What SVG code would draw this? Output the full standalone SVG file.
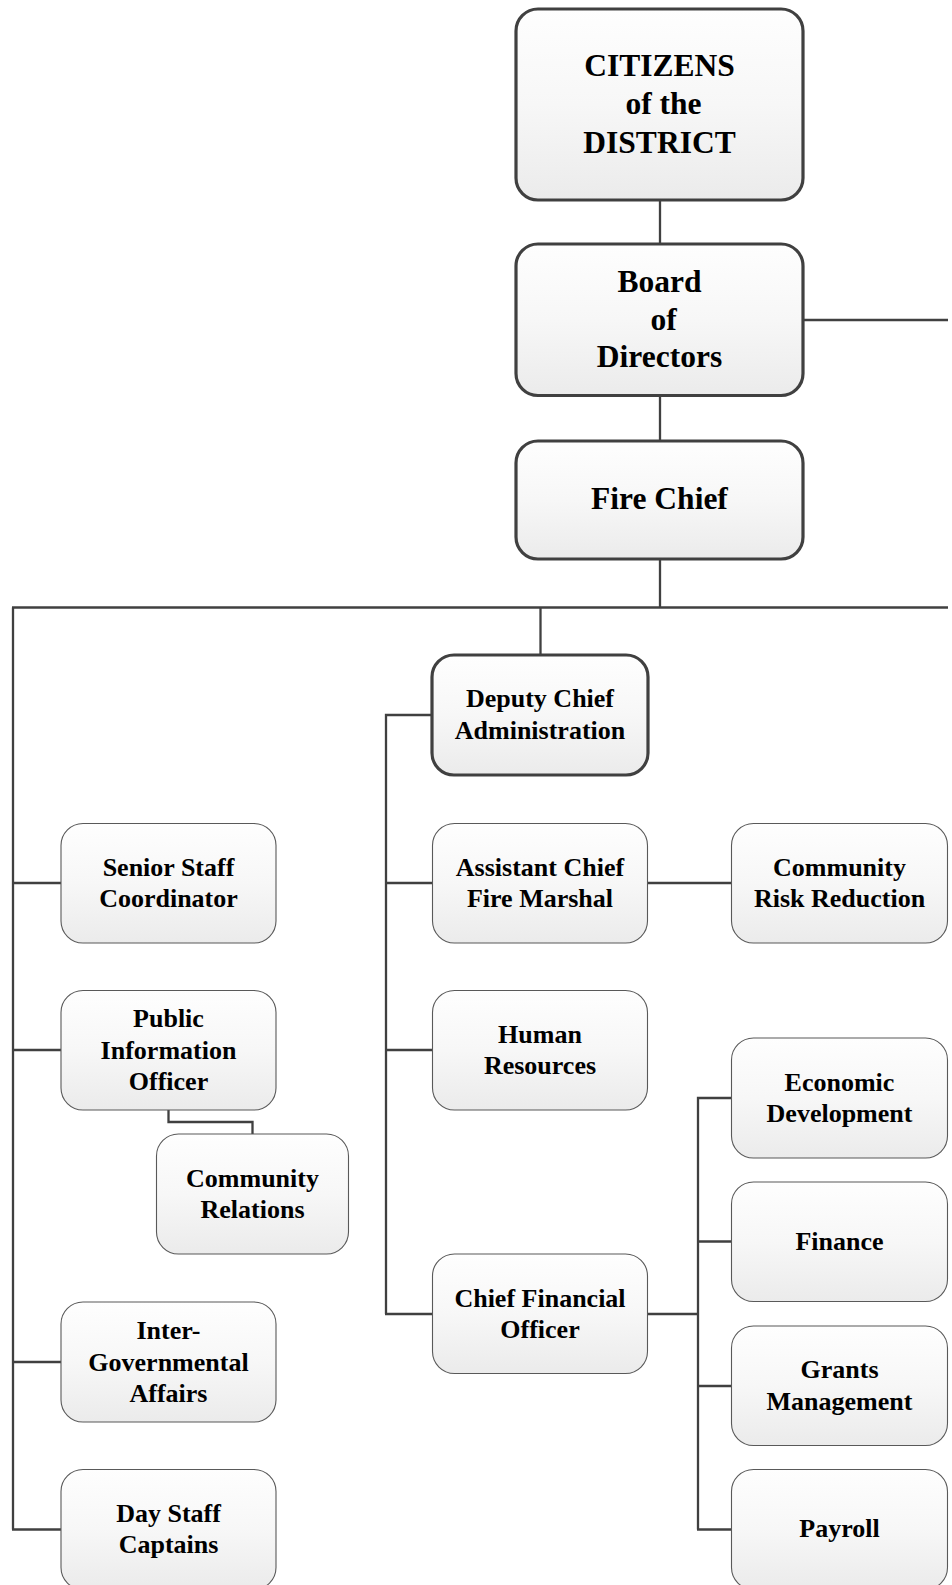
<svg xmlns="http://www.w3.org/2000/svg" width="952" height="1585" viewBox="0 0 952 1585">
<defs>
<linearGradient id="g" x1="0" y1="0" x2="0" y2="1">
<stop offset="0" stop-color="#fefefe"/>
<stop offset="0.5" stop-color="#f7f7f7"/>
<stop offset="1" stop-color="#ebebeb"/>
</linearGradient>
</defs>
<style>
.main rect{fill:url(#g);stroke:#404040;stroke-width:3.2}
.sub rect{fill:url(#g);stroke:#595959;stroke-width:1.1}
text{font-family:"Liberation Serif","Times New Roman",serif;font-weight:bold;fill:#000;text-anchor:middle}
.main text.big{font-size:31.5px}
text{font-size:26px}
#connectors path{fill:none;stroke:#404040;stroke-width:2.3}
</style>
<rect width="952" height="1585" fill="#fff"/>
<g id="connectors">
<path d="M660 200V244"/>
<path d="M660 395.5V441"/>
<path d="M660 559V607.5"/>
<path d="M803 320H948"/>
<path d="M12 607.5H948"/>
<path d="M540.5 607.5V655"/>
<path d="M13 607.5V1529.5"/>
<path d="M13 883H61"/>
<path d="M13 1050H61"/>
<path d="M13 1362H61"/>
<path d="M12 1529.5H61"/>
<path d="M386 1314V715H432"/>
<path d="M386 883H432.5"/>
<path d="M386 1050H432.5"/>
<path d="M385 1314H432.5"/>
<path d="M647.5 883H731.5"/>
<path d="M168.5 1110V1122H252.5V1134"/>
<path d="M647.5 1314H698"/>
<path d="M698 1529.5V1098H731.5"/>
<path d="M698 1241.5H731.5"/>
<path d="M698 1386H731.5"/>
<path d="M697 1529.5H731.5"/>
</g>
<g id="citizens" class="main">
<rect x="516" y="9" width="287" height="191" rx="22"/>
<text class="big" x="659.5" y="75.5">CITIZENS</text>
<text class="big" x="663.5" y="114">of the</text>
<text class="big" x="659.5" y="152.5">DISTRICT</text>
</g>
<g id="board" class="main">
<rect x="516" y="244" width="287" height="151.5" rx="22"/>
<text class="big" x="659.5" y="291.5">Board</text>
<text class="big" x="663.5" y="330">of</text>
<text class="big" x="659.5" y="367">Directors</text>
</g>
<g id="firechief" class="main">
<rect x="516" y="441" width="287" height="118" rx="22"/>
<text class="big" x="659.5" y="509">Fire Chief</text>
</g>
<g id="deputy" class="main">
<rect x="432" y="655" width="216" height="120" rx="22"/>
<text x="540" y="707">Deputy Chief</text>
<text x="540" y="738.5">Administration</text>
</g>
<g id="senior" class="sub">
<rect x="61" y="823.5" width="215" height="119.5" rx="22"/>
<text x="168.5" y="875.5">Senior Staff</text>
<text x="168.5" y="907">Coordinator</text>
</g>
<g id="pio" class="sub">
<rect x="61" y="990.5" width="215" height="119.5" rx="22"/>
<text x="168.5" y="1027">Public</text>
<text x="168.5" y="1058.5">Information</text>
<text x="168.5" y="1090">Officer</text>
</g>
<g id="commrel" class="sub">
<rect x="156.5" y="1134" width="192" height="120" rx="22"/>
<text x="252.5" y="1186.5">Community</text>
<text x="252.5" y="1218">Relations</text>
</g>
<g id="intergov" class="sub">
<rect x="61" y="1302" width="215" height="120" rx="22"/>
<text x="168.5" y="1339">Inter-</text>
<text x="168.5" y="1370.5">Governmental</text>
<text x="168.5" y="1402">Affairs</text>
</g>
<g id="daystaff" class="sub">
<rect x="61" y="1469.5" width="215" height="120" rx="22"/>
<text x="168.5" y="1521.5">Day Staff</text>
<text x="168.5" y="1553">Captains</text>
</g>
<g id="assistant" class="sub">
<rect x="432.5" y="823.5" width="215" height="119.5" rx="22"/>
<text x="540" y="875.5">Assistant Chief</text>
<text x="540" y="907">Fire Marshal</text>
</g>
<g id="hr" class="sub">
<rect x="432.5" y="990.5" width="215" height="119.5" rx="22"/>
<text x="540" y="1042.5">Human</text>
<text x="540" y="1074">Resources</text>
</g>
<g id="cfo" class="sub">
<rect x="432.5" y="1254" width="215" height="119.5" rx="22"/>
<text x="540" y="1306.5">Chief Financial</text>
<text x="540" y="1338">Officer</text>
</g>
<g id="risk" class="sub">
<rect x="731.5" y="823.5" width="216" height="119.5" rx="22"/>
<text x="839.5" y="875.5">Community</text>
<text x="839.5" y="907">Risk Reduction</text>
</g>
<g id="econ" class="sub">
<rect x="731.5" y="1038" width="216" height="120" rx="22"/>
<text x="839.5" y="1090.5">Economic</text>
<text x="839.5" y="1122">Development</text>
</g>
<g id="finance" class="sub">
<rect x="731.5" y="1182" width="216" height="119.5" rx="22"/>
<text x="839.5" y="1250">Finance</text>
</g>
<g id="grants" class="sub">
<rect x="731.5" y="1326" width="216" height="119.5" rx="22"/>
<text x="839.5" y="1378">Grants</text>
<text x="839.5" y="1409.5">Management</text>
</g>
<g id="payroll" class="sub">
<rect x="731.5" y="1469.5" width="216" height="120" rx="22"/>
<text x="839.5" y="1537">Payroll</text>
</g>
</svg>
